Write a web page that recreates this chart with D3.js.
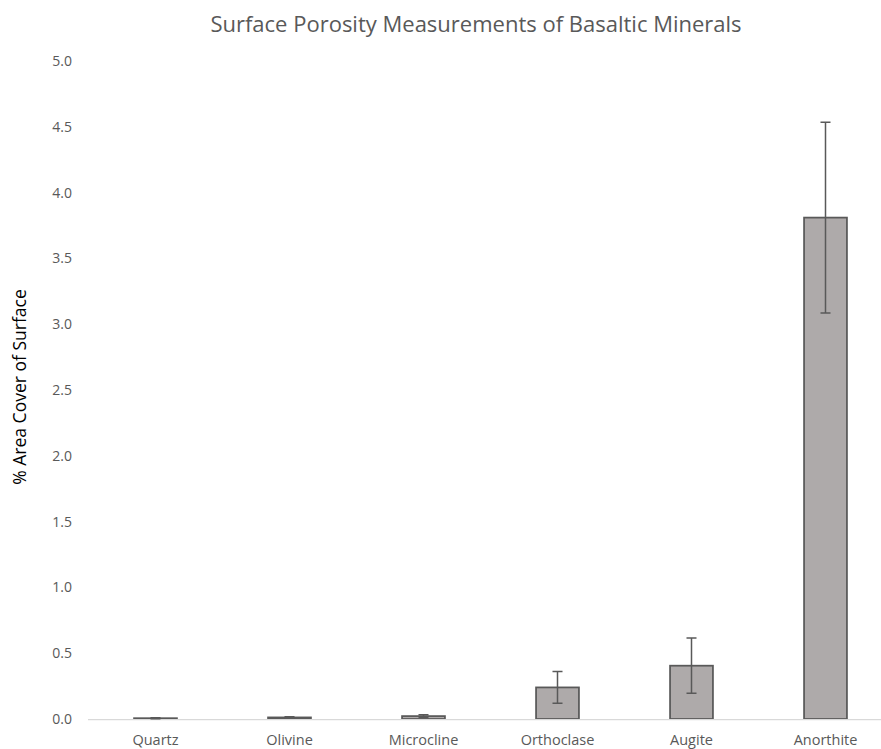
<!DOCTYPE html>
<html>
<head>
<meta charset="utf-8">
<script src="https://cdn.jsdelivr.net/npm/d3@7"></script>
<style>
  html, body { margin: 0; padding: 0; background: #ffffff; }
  svg { display: block; }
</style>
</head>
<body>
<svg id="chart" width="881" height="749"></svg>
<script>
// Mineral samples and their mean surface porosity (% area) with ± error
const minerals = ["Quartz", "Olivine", "Microcline", "Orthoclase", "Augite", "Anorthite"];
const porosity = [0.006, 0.012, 0.022, 0.24, 0.405, 3.81];
const errors   = [0.004, 0.006, 0.010, 0.12, 0.21, 0.725];
const yTicks   = [0, 0.5, 1, 1.5, 2, 2.5, 3, 3.5, 4, 4.5, 5];

const svg = d3.select("#chart");
const font = "'Open Sans', 'Liberation Sans', sans-serif";
const textColor = "#595959";

const x = d3.scaleBand()
  .domain(minerals)
  .range([88.5, 892.5])
  .paddingInner(0.68)
  .paddingOuter(0.34);

const y = d3.scaleLinear()
  .domain([0, 5])
  .range([719, 61]);

// Title
svg.append("text")
  .attr("x", 476)
  .attr("y", 32)
  .attr("text-anchor", "middle")
  .attr("font-family", font)
  .attr("font-size", 22)
  .attr("fill", textColor)
  .text("Surface Porosity Measurements of Basaltic Minerals");

// Y axis (labels only, no line)
const yAxis = svg.append("g")
  .attr("transform", "translate(72,0)")
  .call(d3.axisLeft(y).tickValues(yTicks).tickSize(0).tickPadding(0).tickFormat(d3.format(".1f")));
yAxis.select(".domain").remove();
yAxis.selectAll("text")
  .attr("font-family", font)
  .attr("font-size", 14)
  .attr("fill", textColor);

// Y axis title
svg.append("text")
  .attr("transform", "translate(26,387) rotate(-90)")
  .attr("text-anchor", "middle")
  .attr("font-family", font)
  .attr("font-size", 17.5)
  .attr("fill", "#000000")
  .text("% Area Cover of Surface");

// Bars
svg.append("g")
  .selectAll("rect")
  .data(minerals)
  .join("rect")
  .attr("x", d => x(d))
  .attr("width", x.bandwidth())
  .attr("y", (d, i) => y(porosity[i]))
  .attr("height", (d, i) => y(0) - y(porosity[i]))
  .attr("fill", "#aeaaaa")
  .attr("stroke", "#595959")
  .attr("stroke-width", 1.75);

// X axis baseline and category labels
const xAxis = svg.append("g")
  .attr("transform", `translate(0,${y(0)})`)
  .call(d3.axisBottom(x).tickSize(0).tickPadding(16));
xAxis.select(".domain")
  .attr("d", `M88,0.5H881`)
  .attr("stroke", "#d9d9d9")
  .attr("stroke-width", 1.25);
xAxis.selectAll("text")
  .attr("font-family", font)
  .attr("font-size", 14.5)
  .attr("fill", textColor);

// Error bars
const err = svg.append("g")
  .attr("stroke", "#595959")
  .attr("stroke-width", 1.5)
  .attr("fill", "none");
minerals.forEach((m, i) => {
  const cx = x(m) + x.bandwidth() / 2;
  const top = y(porosity[i] + errors[i]);
  const bot = y(porosity[i] - errors[i]);
  const cap = 5;
  err.append("path")
    .attr("d", `M${cx},${top}V${bot}M${cx - cap},${top}H${cx + cap}M${cx - cap},${bot}H${cx + cap}`);
});
</script>
</body>
</html>
